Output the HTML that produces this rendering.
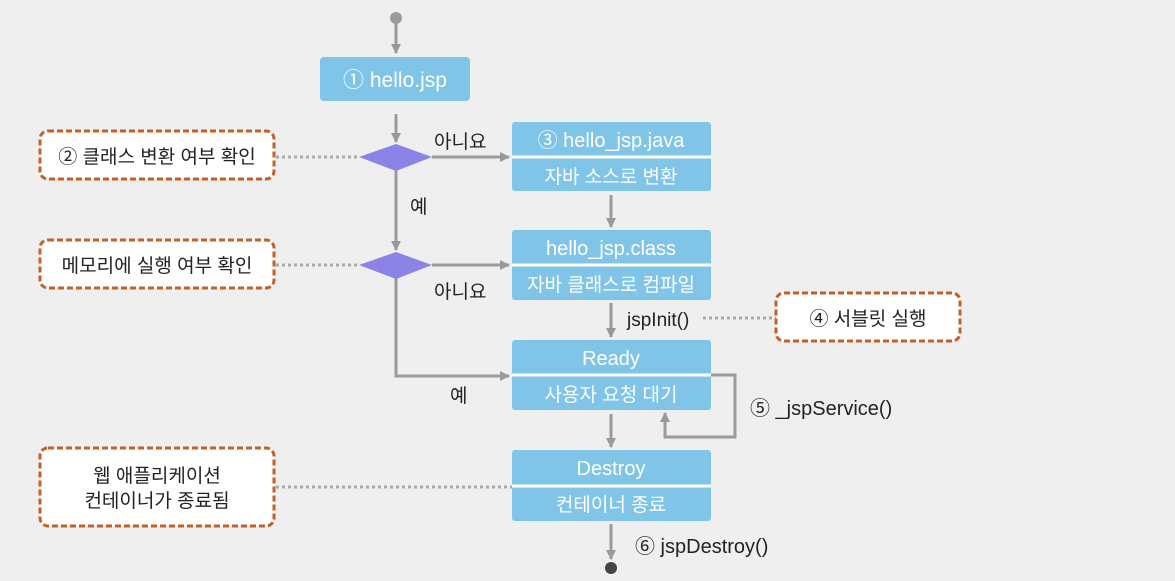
<!DOCTYPE html>
<html><head><meta charset="utf-8"><style>
html,body{margin:0;padding:0;background:#efefef;}
svg{display:block;}
text{font-family:"Liberation Sans","Noto Sans CJK KR",sans-serif;}
</style></head><body>
<svg width="1175" height="581" viewBox="0 0 1175 581" xmlns="http://www.w3.org/2000/svg">
<defs>
<marker id="a" markerWidth="10" markerHeight="10" refX="9" refY="5" orient="auto" markerUnits="userSpaceOnUse">
<path d="M0,0 L10,5 L0,10 z" fill="#999"/></marker>
</defs>
<rect width="1175" height="581" fill="#efefef"/>
<g stroke="#9b9b9b" stroke-width="3" fill="none">
<circle cx="396" cy="18" r="6" fill="#9b9b9b" stroke="none"/>
<line x1="396" y1="24" x2="396" y2="53" marker-end="url(#a)"/>
<line x1="396" y1="114" x2="396" y2="142" marker-end="url(#a)"/>
<line x1="432" y1="157" x2="509" y2="157" marker-end="url(#a)"/>
<line x1="396" y1="170" x2="396" y2="250" marker-end="url(#a)"/>
<line x1="432" y1="265" x2="509" y2="265" marker-end="url(#a)"/>
<polyline points="396,278 396,376 509,376" marker-end="url(#a)"/>
<line x1="611" y1="195" x2="611" y2="227" marker-end="url(#a)"/>
<line x1="611" y1="303" x2="611" y2="337" marker-end="url(#a)"/>
<polyline points="711,375 735,375 735,437 665,437 665,413" marker-end="url(#a)"/>
<line x1="611" y1="414" x2="611" y2="447" marker-end="url(#a)"/>
<line x1="611" y1="524" x2="611" y2="559" marker-end="url(#a)"/>
</g>
<circle cx="611" cy="568" r="6" fill="#444"/>
<g stroke="#aaa" stroke-width="3" stroke-dasharray="3,3">
<line x1="276" y1="157" x2="360" y2="157"/>
<line x1="276" y1="265" x2="360" y2="265"/>
<line x1="703" y1="318" x2="776" y2="318"/>
<line x1="276" y1="487" x2="512" y2="487"/>
</g>
<polygon points="359,157 396,144 432,157 396,171" fill="#8b84e6"/>
<polygon points="359,265 396,252 432,265 396,279" fill="#8b84e6"/>
<g fill="#fff" stroke="#c0622a" stroke-width="3" stroke-dasharray="6,3">
<rect x="40" y="131" width="234" height="48" rx="8"/>
<rect x="40" y="240" width="234" height="48" rx="8"/>
<rect x="776" y="293" width="184" height="48" rx="8"/>
<rect x="40" y="448" width="234" height="78" rx="8"/>
</g>
<g fill="#80c5e8">
<rect x="320" y="57" width="150" height="44" rx="4"/>
<rect x="512" y="122" width="199" height="69" rx="3"/>
<rect x="512" y="230" width="199" height="70" rx="3"/>
<rect x="512" y="340" width="199" height="70" rx="3"/>
<rect x="512" y="450" width="199" height="71" rx="3"/>
</g>
<g stroke="#fff" stroke-width="3">
<line x1="512" y1="157" x2="711" y2="157"/>
<line x1="512" y1="265" x2="711" y2="265"/>
<line x1="512" y1="375" x2="711" y2="375"/>
<line x1="512" y1="486" x2="711" y2="486"/>
</g>
<g fill="#fff" font-size="20" text-anchor="middle">
<text x="395" y="87" font-size="21">① hello.jsp</text>
<text x="611" y="147">③ hello_jsp.java</text>
<text x="611" y="183" font-size="19">자바 소스로 변환</text>
<text x="611" y="255">hello_jsp.class</text>
<text x="611" y="291" font-size="19">자바 클래스로 컴파일</text>
<text x="611" y="365">Ready</text>
<text x="611" y="401" font-size="19">사용자 요청 대기</text>
<text x="611" y="475">Destroy</text>
<text x="611" y="511" font-size="19">컨테이너 종료</text>
</g>
<g fill="#222" font-size="19">
<text x="157" y="163" text-anchor="middle">② 클래스 변환 여부 확인</text>
<text x="157" y="272" text-anchor="middle">메모리에 실행 여부 확인</text>
<text x="868" y="325" text-anchor="middle">④ 서블릿 실행</text>
<text x="157" y="482" text-anchor="middle">웹 애플리케이션</text>
<text x="157" y="507" text-anchor="middle">컨테이너가 종료됨</text>
<text x="434" y="148">아니요</text>
<text x="434" y="298">아니요</text>
<text x="410" y="213">예</text>
<text x="450" y="402">예</text>
<text x="627" y="326" font-size="19">jspInit()</text>
<text x="750" y="415" font-size="20">⑤ _jspService()</text>
<text x="635" y="553" font-size="20">⑥ jspDestroy()</text>
</g>
</svg>
</body></html>
